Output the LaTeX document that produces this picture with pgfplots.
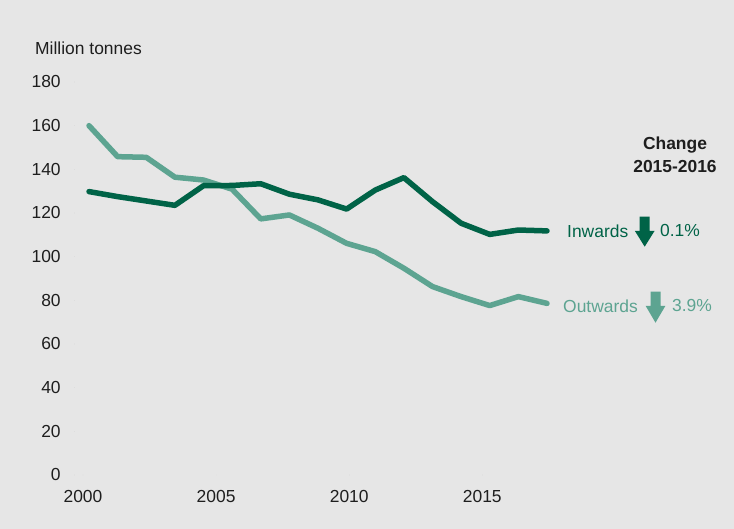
\documentclass[border=0pt]{standalone}
\usepackage{fontspec}
\setmainfont{Liberation Sans}
\usepackage{pgfplots}
\pgfplotsset{compat=1.18}
\definecolor{bgc}{HTML}{E6E6E6}
\definecolor{dk}{HTML}{006347}
\definecolor{lt}{HTML}{5DA491}
\definecolor{txt}{HTML}{1E1E1E}
\begin{document}
\fontsize{17.5}{21}\selectfont
\begin{tikzpicture}[x=1bp,y=1bp]
\fill[bgc] (0,0) rectangle (734,529);
\begin{axis}[
  at={(74.7bp,54bp)}, anchor=south west,
  scale only axis, width=486.6bp, height=393bp,
  xmin=1999.5, xmax=2016.5, ymin=0, ymax=180,
  clip=false,
  axis line style={draw=none},
  major tick length=0,
  xtick pos=bottom, ytick pos=left,
  ytick={0,20,...,180},
  xtick={1999.79,2004.44,2009.09,2013.74},
  xticklabels={2000,2005,2010,2015},
  /pgf/number format/assume math mode=true,
  ticklabel style={font=\fontsize{17.5}{21}\selectfont, text=txt},
  yticklabel style={xshift=-8bp},
  xticklabel style={yshift=-9bp},
  line join=round, line cap=round,
]
\addplot[lt, line width=5.5bp] coordinates {
(2000,160) (2001,145.8) (2002,145.5) (2003,136.4) (2004,135.1) (2005,130.9)
(2006,117.3) (2007,119.1) (2008,113) (2009,106.1) (2010,102.3) (2011,94.7)
(2012,86.3) (2013,81.7) (2014,77.6) (2015,81.7) (2016,78.6)};
\addplot[dk, line width=5.5bp] coordinates {
(2000,129.8) (2001,127.5) (2002,125.5) (2003,123.5) (2004,132.5) (2005,132.6)
(2006,133.4) (2007,128.6) (2008,126) (2009,121.8) (2010,130.5) (2011,136.2)
(2012,125.2) (2013,115.3) (2014,110.2) (2015,112.2) (2016,111.8)};
\end{axis}
\node[anchor=west, inner sep=0, text=txt] at (35,481) {Million tonnes};
\node[inner sep=0, text=txt, font=\bfseries] at (675,384) {Change};
\node[inner sep=0, text=txt, font=\bfseries] at (675,362.5) {2015-2016};
\node[anchor=west, inner sep=0, text=dk] at (567,298) {Inwards};
\node[anchor=west, inner sep=0, text=dk] at (660,298) {0.1\%};
\fill[dk] (639.7,312.3) -- (649.7,312.3) -- (649.7,298) -- (654.5,298) -- (644.7,282.3) -- (634.9,298) -- (639.7,298) -- cycle;
\node[anchor=west, inner sep=0, text=lt] at (563,223) {Outwards};
\node[anchor=west, inner sep=0, text=lt] at (672,223) {3.9\%};
\fill[lt] (650.5,237.3) -- (660.5,237.3) -- (660.5,223) -- (665.3,223) -- (655.5,206.3) -- (645.7,223) -- (650.5,223) -- cycle;
\end{tikzpicture}
\end{document}
